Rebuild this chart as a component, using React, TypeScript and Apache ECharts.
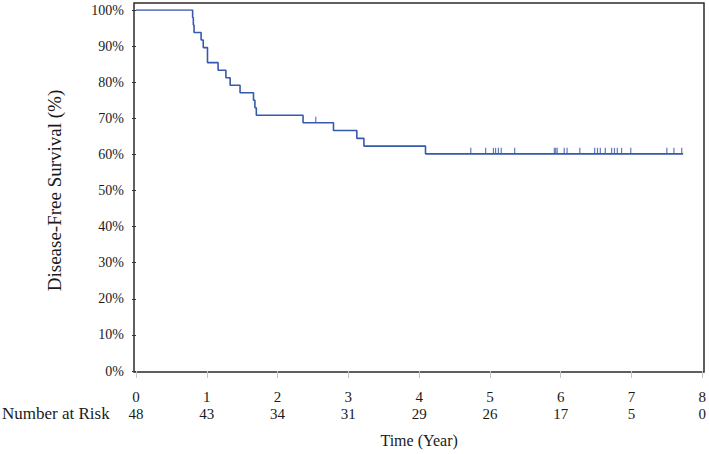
import React, { useEffect, useRef } from "react";
import * as echarts from "echarts";

// Kaplan–Meier curve
const eventTimes = [0, 0.8, 0.81, 0.82, 0.92, 0.95, 1.01, 1.16, 1.27, 1.33, 1.47, 1.66, 1.68, 1.7, 2.36, 2.79, 3.12, 3.22, 4.09];
const survival = [100, 97.92, 95.83, 93.75, 91.67, 89.58, 85.42, 83.33, 81.25, 79.17, 77.08, 75.0, 72.92, 70.83, 68.75, 66.6, 64.45, 62.3, 60.15];
const endTime = 7.73;
const censorTimes = [
  2.54, 4.73, 4.94, 5.05, 5.08, 5.12, 5.16, 5.35, 5.91, 5.93, 5.95, 6.05, 6.09,
  6.27, 6.48, 6.52, 6.56, 6.63, 6.72, 6.76, 6.8, 6.86, 6.99, 7.5, 7.6, 7.71,
];
const xTicks = [0, 1, 2, 3, 4, 5, 6, 7, 8];
const numberAtRisk = [48, 43, 34, 31, 29, 26, 17, 5, 0];

const FONT = "'Liberation Serif', 'DejaVu Serif', serif";
const LINE = "#3759ad";
const TXT = "#1a1a1a";

function survivalAt(t: number): number {
  let s = survival[0];
  for (let i = 0; i < eventTimes.length; i++) {
    if (eventTimes[i] <= t) s = survival[i];
  }
  return s;
}

export default function App() {
  const ref = useRef<HTMLDivElement>(null);
  useEffect(() => {
    if (!ref.current) return;
    const chart = echarts.init(ref.current, null, { renderer: "svg" });
    const curve: number[][] = eventTimes.map((t, i) => [t, survival[i]]);
    curve.push([endTime, survival[survival.length - 1]]);
    const censors = censorTimes.map((t) => [t, survivalAt(t)]);

    chart.setOption({
      animation: false,
      backgroundColor: "#ffffff",
      grid: { left: 136, right: 6, top: 10, bottom: 83 },
      xAxis: [
        {
          type: "value",
          min: 0,
          max: 8,
          interval: 1,
          offset: 1,
          axisLine: { show: false },
          axisTick: { show: true, length: 7, lineStyle: { color: "#c4c4c4", width: 1 } },
          splitLine: { show: false },
          axisLabel: { margin: 17, fontSize: 15, fontFamily: FONT, color: TXT },
          name: "Time (Year)",
          nameLocation: "middle",
          nameGap: 60,
          nameTextStyle: { fontSize: 16, fontFamily: FONT, color: TXT },
        },
        {
          type: "value",
          position: "bottom",
          min: 0,
          max: 8,
          interval: 1,
          offset: 18,
          axisLine: { show: false },
          axisTick: { show: false },
          splitLine: { show: false },
          axisLabel: {
            margin: 17,
            fontSize: 15,
            fontFamily: FONT,
            color: TXT,
            formatter: (v: number) => {
              const i = xTicks.indexOf(Math.round(v));
              return i >= 0 ? String(numberAtRisk[i]) : "";
            },
          },
        },
      ],
      yAxis: {
        type: "value",
        min: 0,
        max: 100,
        interval: 10,
        offset: 2,
        axisLine: { show: false },
        axisTick: { show: true, length: 4, lineStyle: { color: "#333333", width: 1 } },
        splitLine: { show: false },
        axisLabel: { formatter: "{value}%", fontSize: 14, margin: 10, fontFamily: FONT, color: TXT },
        name: "Disease-Free Survival (%)",
        nameLocation: "middle",
        nameRotate: 90,
        nameGap: 70,
        nameTextStyle: { fontSize: 19, fontFamily: FONT, color: TXT },
      },
      graphic: [
        {
          type: "rect",
          shape: { x: 134, y: 3, width: 570, height: 369 },
          style: { fill: "none", stroke: "#2b2b2b", lineWidth: 1.5 },
          silent: true,
        },
        {
          type: "text",
          left: 2,
          top: 405,
          style: { text: "Number at Risk", fontSize: 17, fontFamily: FONT, fill: TXT },
          silent: true,
        },
      ],
      series: [
        {
          type: "line",
          data: curve,
          step: "end",
          showSymbol: false,
          symbol: "none",
          lineStyle: { color: LINE, width: 1.6 },
          z: 3,
        },
        {
          type: "scatter",
          data: censors,
          symbol: "rect",
          symbolSize: [1.2, 6],
          symbolOffset: [0, -3],
          itemStyle: { color: LINE },
          z: 4,
        },
      ],
    });
    return () => chart.dispose();
  }, []);
  return (
    <div
      ref={ref}
      style={{ position: "fixed", left: 0, top: 0, width: 709, height: 454, background: "#fff" }}
    />
  );
}
